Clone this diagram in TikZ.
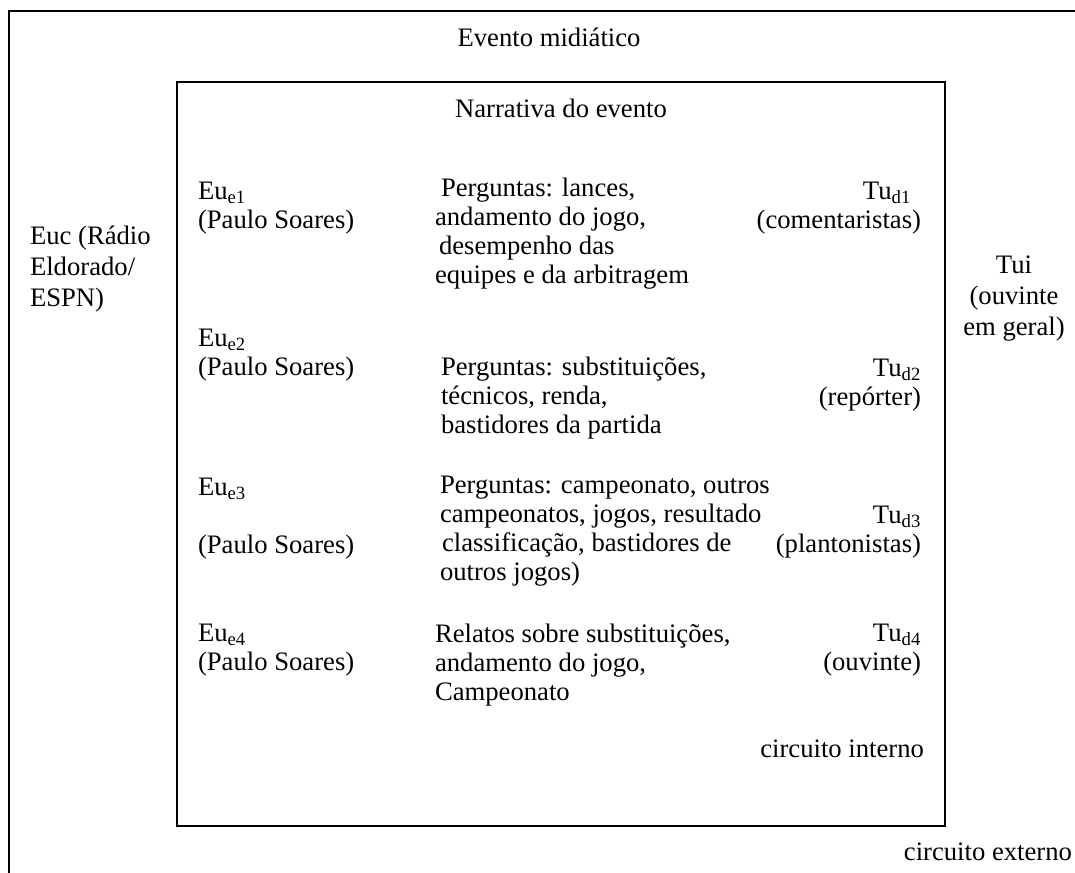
\documentclass[tikz,border=0pt]{standalone}
\usepackage{fontspec}
\setmainfont{Liberation Serif}
\begin{document}
\begin{tikzpicture}[x=0.75pt, y=-0.75pt, line width=1.5pt,
  txt/.style={inner sep=0pt, font=\fontsize{20}{21.75}\selectfont},
  largo/.style={inner sep=0pt, font=\fontsize{20}{23}\selectfont},
  esq/.style={txt, anchor=base west, align=left},
  dir/.style={txt, anchor=base east, align=right},
  meio/.style={txt, anchor=base, align=center}]
\useasboundingbox (0,0) rectangle (1075,872);
\clip (0,0) rectangle (1075,872);
\draw (1095,11) -- (9,11) -- (9,895);
\draw (177,82) rectangle (945,826);
\node[meio] (evento) at (549,46) {Evento midiático};
\node[meio] (narrativa) at (561,117) {Narrativa do evento};
\node[largo, anchor=base west, align=left] (euc) at (29,306) {Euc (Rádio\\Eldorado/\\ESPN)};
\node[largo, anchor=base, align=center] (tui) at (1014,335) {Tui\\(ouvinte\\em geral)};
\node[esq] (eu1) at (197,228) {Eu\textsubscript{e1}\\(Paulo Soares)};
\node[esq] (perg1) at (434,283) {\hspace*{4.5pt}Perguntas: lances,\\andamento do jogo,\\\hspace*{3pt}desempenho das\\equipes e da arbitragem};
\node[dir] (tu1) at (922,228) {Tu\textsubscript{d1}\hspace*{7.5pt}\\(comentaristas)};
\node[esq] (eu2) at (197,375) {Eu\textsubscript{e2}\\(Paulo Soares)};
\node[esq] (perg2) at (440,433) {Perguntas: substituições,\\técnicos, renda,\\bastidores da partida};
\node[dir] (tu2) at (922,405) {Tu\textsubscript{d2}\\(repórter)};
\node[esq] (eu3) at (197,553) {Eu\textsubscript{e3}\\[21.75pt](Paulo Soares)};
\node[esq] (perg3) at (439,580) {Perguntas: campeonato, outros\\campeonatos, jogos, resultado\\\hspace*{1.5pt}classificação, bastidores de\\outros jogos)};
\node[dir] (tu3) at (922,552) {Tu\textsubscript{d3}\\(plantonistas)};
\node[esq] (eu4) at (197,670) {Eu\textsubscript{e4}\\(Paulo Soares)};
\node[esq] (rel4) at (434,700) {Relatos sobre substituições,\\andamento do jogo,\\Campeonato};
\node[dir] (tu4) at (922,670) {Tu\textsubscript{d4}\\(ouvinte)};
\node[dir] (interno) at (925,757) {circuito interno};
\node[dir] (externo) at (1073,860) {circuito externo};
\end{tikzpicture}
\end{document}
